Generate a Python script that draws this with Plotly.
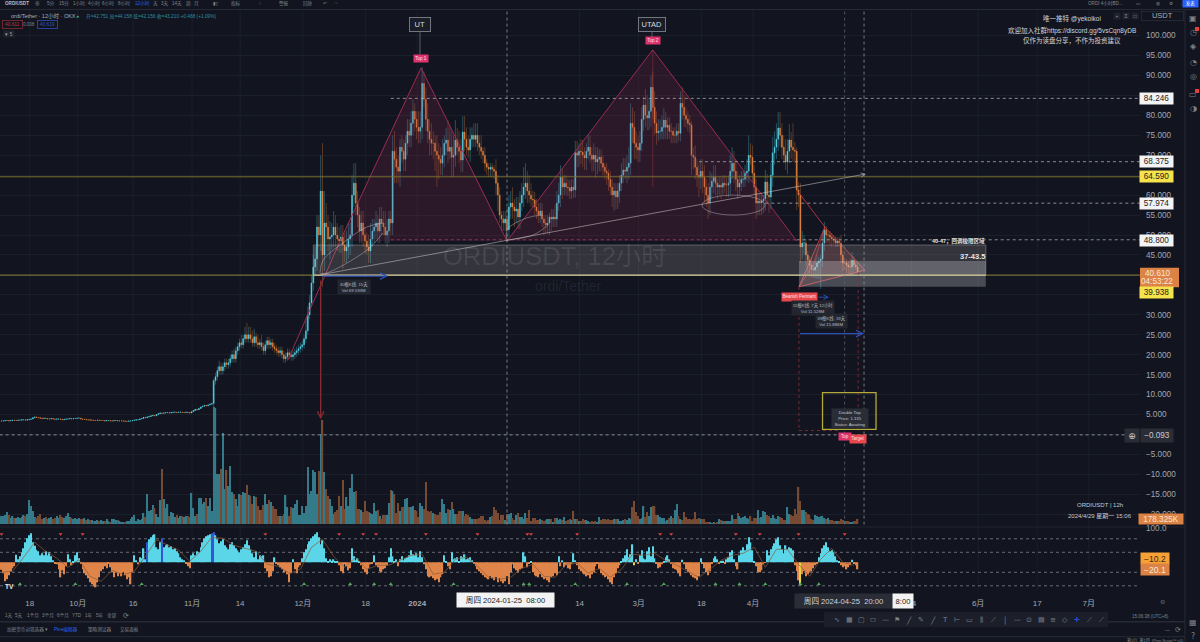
import plotly.graph_objects as go
import pandas as pd

CLOSE = [
3.4,3.4,3.5,3.5,3.4,3.5,3.6,3.5,3.5,3.6,
3.6,3.7,3.7,3.6,3.7,3.8,3.9,4.2,4.4,4.3,
4.2,4.1,4.0,4.1,4.0,3.9,3.9,4.0,3.9,3.8,
3.9,3.9,3.8,3.7,3.8,3.9,3.9,4.0,3.9,4.0,
4.0,4.1,4.1,3.9,3.8,3.8,3.7,3.7,3.6,3.6,
3.5,3.5,3.6,3.5,3.5,3.5,3.4,3.5,3.5,3.4,
3.4,3.5,3.5,3.4,3.4,3.4,3.4,3.3,3.3,3.4,
3.4,3.5,3.6,3.7,3.7,3.9,4.0,4.3,4.2,4.4,
4.5,4.7,4.8,4.7,5.0,5.2,5.4,5.3,5.4,5.5,
5.5,5.4,5.5,5.6,5.6,5.5,5.6,5.6,5.5,5.5,
5.6,5.5,5.4,5.7,6.0,6.3,6.2,6.5,6.9,7.1,
7.3,7.2,7.4,7.6,7.8,13.5,14.5,16,17,16,
17,18,17.5,18,19,20,19,21,22,23,
22.5,24,25,24,25,24,23,24.5,23,22.5,
23,22,21,22.5,23.5,22.5,23,22,21.5,21,
20.5,21,20,19,19.5,20.5,20,19.5,20,20.5,
21,21.5,22,22.5,24,26,30,33,38,42,
44,52,50,61,45,53,52,49,49.5,50,
52,50,49,48.5,49.5,47.5,46,47,49,50,
60,63,58,55,51,53,50,48.5,47,46,
49,51,52,53,51,54,53,52,50,51,
54,53,71,69,67,66,72,71,69,73,
76,75,78,81,79,77,76,77,88,84,
79,76,74,73,73,71,70,69,68,70,
73,73.8,71,72,69.5,70,73.8,72,71,68.8,
75.8,74,72,71.3,74,75,74,75,73,72,
71,70,68,67,66.5,67,66.5,66,63,60,
55,54,53,54,51.3,57,58,57,56,56.5,
54.5,58,60,62,63,61,60,59,58.8,57,
56,55,56,54,53,52.5,53,54.5,54,54.5,
54,58,60,64.5,62,63,62,61.8,61,62,
61.3,70.6,70,71,70.8,70,69.3,71,72,70,
69,70,68.3,69,69.5,68,67,66,65.5,64,
62,60,61,59.5,61,63,65,66.3,66,67,
68,78,77,73,72,71.3,73,79,82.6,80,
79.3,81,87,82,78,75.6,76,76,77,78.8,
77,77.5,76,76,75,75,76,75.5,83,82,
80,79,78,77.6,70,69.5,67,65,64.5,66,
64.5,62,60,58,62,63.5,64.5,63,62,62.5,
62,63,62.5,62.5,63,66,68,66,64,62,
63,64,64,65.5,66,70,69.5,65.5,62,58,
58.5,58,58.5,59,63.3,60,59.5,65,70.6,72,
74,76.8,75,72,70,68.3,71,73.8,72,71.3,
71,61.3,60,47,48,48,45,43.7,42.5,41.5,
41.2,42,43,43.5,44,48,51.3,50,50,49.5,
49,48.7,48,48.5,48,45,43,43,42.5,42,
42,43.7,42.5,42,40.6]

WICK_UP = [0]*115 + [
0.5,1,1,1.5,1,1,1,1,1,1,
1,1.5,1,1,1,2,1,2,3,2,
2,2,2,1,2,1,2,1,1,1,
1,1,1,1,1,1,1,1,1,1,
1,1,1,1,1,1,1,1,1,1,
3,2,2,2,3,3,3,3,9,12,
8,5,3,4,3,4,3,3,3,3,
3,3,4,4,3,5,5,5,3,2,
3,3,2,2,3,4,3,2,3,2,
3,3,3,4,3,2,2,4,5,3,
3,2,3,3,2,3,3,3,3,2,
2,4,4,4,3,3,4,3,4,3,
2,4,3,3,4,2,3,5,5,4,
5,5,3,4,3,4,4,3,3,3,
2,3,3,3,2,3,1,2,1,1,
1,1,1,3,2,2,1,2,2,3,
3,3,4,2,3,3,3,3,5,5,
3,4,3,2,2,2,2,2,2,1,
2,2,1,2,2,3,3,3,3,2,
2,2,2,2,2,2,3,3,2,3,
3,2,2,3,3,2,3,2,3,2,
2,2,1,2,1,2,2,2,2,2,
2,3,3,3,3,4,5,4,4,3,
3,3,3,2,4,5,3,3,4,4,
3,3,3,3,3,2,2,2,2,1,
2,2,2,3,4,3,2,2,2,1,
2,3,2,3,3,3,3,2,3,4,
2,3,3,1,2,2,2,2,2,2,
4,4,3,3,2,2,2,2,2,3,
5,3,3,2,2,2,2,2,1,3,
2,3,3,4,4,4,4,4,3,3,
4,3,4,2,6,2,1,2,3,3,
2,1,1,1,2,1,2,2,1,1,
3,2,1,1,1,1,1,1,1,1,
2,1,1,1,1,2,2,1,1,1]

WICK_DOWN = [0]*115 + [
1,1,1,1,1,1,1,1,1,1,
1,1,1,1,1,1,1,1,1,1,
1,1,1,1,1,1,1,1,1,1,
1,1,1,1,1,1,1,1,1,1,
1,1,1,1,1,1,1,1,1,1,
1,1,1,1,2,2,3,3,4,8,
4,4,3,5,3,3,3,3,3,3,
6,3,3,3,4,3,3,3,3,3,
3,3,3,2,3,3,2,3,3,3,
3,3,2,2,3,3,3,3,6,4,
3,4,3,3,3,3,3,3,3,3,
3,3,3,3,2,3,3,4,3,4,
5,8,5,3,3,3,3,3,2,5,
5,3,2,3,3,3,3,2,2,3,
2,2,2,2,2,2,2,2,2,2,
2,2,2,3,4,2,3,2,2,3,
2,3,3,4,3,3,3,2,3,3,
3,2,2,2,2,2,2,2,2,3,
2,2,3,3,2,2,2,2,3,3,
2,2,2,2,2,2,2,3,3,3,
3,3,3,2,2,3,3,4,3,3,
2,2,2,3,3,2,3,4,3,3,
3,2,2,2,3,3,3,4,4,3,
3,3,2,3,3,3,3,4,3,3,
3,2,2,2,3,3,3,2,3,2,
2,2,2,2,3,3,2,2,2,5,
3,3,3,5,3,4,4,3,4,3,
3,3,3,3,2,3,2,2,3,3,
3,2,3,3,3,2,2,2,2,2,
3,2,2,2,4,3,3,3,3,3,
2,4,3,3,3,3,3,3,3,2,
2,3,3,3,3,3,5,3,4,3,
3,3,3,3,2,2,2,3,4,7,
2,2,2,2,2,2,1,1,1,1,
2,2,2,2,2,2,2,2,1,0.5]

# volume, in units of roughly 35K
VOLUME = [
8,8,9,12,9,6,8,6,6,7,
6,7,9,8,10,24,18,13,7,6,
8,10,5,6,7,5,6,7,5,6,
8,6,9,7,6,8,11,7,6,5,
6,5,6,5,5,6,4,5,4,4,
3,3,4,3,4,3,3,5,3,2,
5,5,4,4,3,2,2,2,3,3,
5,7,9,3,5,4,5,11,7,30,
13,14,19,16,10,7,24,55,25,16,
20,8,12,11,7,9,6,8,8,7,
8,8,7,31,16,8,10,26,26,20,
22,26,18,26,13,117,116,50,50,55,
91,35,54,38,58,32,30,25,18,30,
29,32,31,39,29,28,20,28,27,18,
14,14,19,30,20,24,22,18,15,15,
8,8,8,10,29,17,8,17,16,20,
24,9,9,18,11,18,57,30,33,54,
52,30,53,90,104,52,35,28,25,18,
10,12,14,28,18,44,15,27,18,36,
50,32,33,15,15,14,12,23,13,12,
11,10,21,13,14,8,5,9,9,9,
21,34,33,30,11,21,13,17,17,25,
26,17,17,18,14,13,7,21,18,15,
42,13,12,13,11,10,9,9,12,25,
20,11,15,14,22,15,10,10,13,13,
13,8,10,9,7,5,5,5,5,6,
8,8,4,3,4,7,8,17,14,11,
4,9,9,4,10,10,11,6,4,9,
11,7,7,5,11,6,14,3,6,6,
4,4,5,4,3,4,5,5,5,2,
6,6,4,5,4,7,3,4,5,4,
13,5,5,3,3,5,4,4,3,2,
3,2,3,2,7,4,5,5,4,5,
4,4,5,5,5,3,3,4,5,4,
6,5,17,23,12,8,5,6,18,7,
12,8,17,18,18,9,9,7,6,6,
3,4,6,8,6,14,20,8,5,4,
12,7,5,5,4,5,12,5,6,5,
5,5,2,2,2,1,2,1,2,5,
4,3,3,3,3,3,9,5,5,11,
8,6,7,8,6,5,8,3,6,6,
14,6,7,13,12,9,8,6,9,6,
5,8,7,6,4,4,17,10,9,8,
15,10,37,23,14,14,12,10,9,5,
4,9,8,7,8,8,6,5,6,4,
4,3,3,3,3,5,4,3,3,3,
2,2,3,3,5]

OSC = [
-15,-22,-38,-34,-26,-18,-12,-8,15,6,
12,20,28,40,48,54,58,40,33,25,
22,14,18,14,22,14,20,12,4,-2,
-4,-14,-30,-16,-24,-8,16,6,-6,2,
14,20,8,-3,-14,-22,-26,-32,-40,-44,
-48,-50,-40,-30,-18,-14,-8,-12,-2,-10,
-20,-30,-20,-28,-22,-28,-20,-26,-34,-30,
-44,-20,14,4,-4,10,8,28,6,40,
46,50,54,56,30,26,40,48,30,34,
36,30,32,26,28,22,18,10,6,4,
-2,-8,-12,14,18,14,22,20,30,40,
48,52,54,56,58,60,54,46,38,42,
46,34,30,26,36,40,34,28,24,20,
26,30,36,44,34,26,18,10,22,6,
14,12,14,-12,-18,-30,-28,-18,10,-3,
-6,-10,-14,-20,-18,-24,-40,-22,6,-14,
-22,-10,-6,8,20,26,36,42,48,52,
56,60,50,36,44,28,8,2,6,3,
6,2,2,-6,-18,-22,-4,-8,-16,-12,
28,12,4,8,2,-6,-14,-20,-24,-12,
-4,-2,14,-6,-10,-18,-20,-14,-12,-6,
10,28,12,2,6,-8,6,12,4,8,
10,14,24,16,14,18,10,22,10,-4,
-14,-28,-30,-28,-32,-36,-34,-40,-30,-24,
14,2,-8,-14,20,6,8,10,2,12,
10,16,6,8,10,4,-2,-8,-14,-18,
-22,-26,-30,-32,-34,-28,-32,-36,-30,-40,
-32,-38,-42,-38,-28,-44,-20,-4,-12,-16,
-20,-14,-12,20,12,-10,-3,2,-20,-26,
-28,-30,-24,-30,-34,-32,-36,-40,-30,-28,
-22,-26,12,-8,4,-10,-6,-12,-14,-4,
18,4,-6,-14,-18,-22,-24,-28,-26,-32,
-24,-20,-8,-2,-14,-22,-26,-30,-28,-34,
-40,-44,-30,-22,-12,-6,2,8,14,26,
10,16,36,-6,6,-3,14,24,8,6,
22,30,12,32,8,-2,-12,-10,-4,2,
10,14,6,-2,-12,-14,-16,-22,-28,5,
-4,-14,-20,-22,-26,-30,-32,-36,-28,8,
-2,-12,-20,-26,-18,-3,8,12,6,-3,
2,3,-2,6,10,20,24,6,-8,-14,
14,24,30,24,36,50,40,24,1,-8,
-20,-20,-16,-4,-1,24,14,26,32,38,
46,50,34,26,18,34,26,30,28,24,
-6,-18,-36,-46,-24,-18,-28,-24,-20,-18,
-12,-6,-2,10,18,28,34,40,30,22,
24,20,12,4,1,-6,-10,-8,-14,-10,
-6,5,-3,-6,-14]

# signal line, read every 6th bar
SIGNAL = [-20,-18,10,40,22,8,-10,5,-28,-38,-16,-25,-18,12,45,35,24,2,22,50,48,34,28,22,-4,-8,
-22,-14,30,46,12,-10,10,-14,-6,-6,4,14,16,-24,-20,6,10,-8,-30,-34,-30,-12,-4,-28,-30,-4,-2,-22,
-12,-30,-14,16,14,18,4,-6,-18,-30,-14,4,14,18,30,-10,26,26,-4,-28,6,28,0,-6]

BLUE_BARS = [79, 87, 114, 115]
YELLOW_BARS = [343, 433]
SELL_MARKS = [0, 32, 44, 143, 183, 196, 203, 230, 258, 285, 287, 312, 357, 363, 398, 411, 432, 457]
BUY_MARKS = [10, 40, 76, 164, 189, 202, 211, 245, 283, 286, 311, 339, 359, 387, 400, 414, 433, 443]

PRICE_TICKS = [100,95,90,85,80,75,70,65,60,55,50,45,40,35,30,25,20,15,10,5,0,-5,-10,-15,-20]
PRICE_LABELS = ["100.000","95.000","90.000","","80.000","75.000","70.000","","60.000","55.000","50.000",
                "45.000","","35.000","30.000","25.000","20.000","15.000","10.000","5.000","",
                "−5.000","−10.000","−15.000","−20.000"]
DATE_TICKS = ["2023-09-18","2023-10-01","2023-10-16","2023-11-01","2023-11-14","2023-12-01","2023-12-18",
              "2024-01-01","2024-02-14","2024-03-01","2024-03-18","2024-04-01","2024-05-14",
              "2024-06-01","2024-06-17","2024-07-01"]
DATE_LABELS = ["18","10月","16","11月","14","12月","18","<b>2024</b>","14","3月","18","4月","14","6月","17","7月"]

BG = "#12151f"
W, H = 1200, 642
START = pd.Timestamp("2023-09-10 08:00")
def T(i):
    return START + pd.Timedelta(hours=12) * i
n = len(CLOSE)
bars = list(range(n))
dates = [T(i) for i in bars]
OPEN = [CLOSE[0]] + CLOSE[:-1]
body_hi = [max(o, c) for o, c in zip(OPEN, CLOSE)]
body_lo = [min(o, c) for o, c in zip(OPEN, CLOSE)]
HIGH = [b + w for b, w in zip(body_hi, WICK_UP)]
LOW = [b - w for b, w in zip(body_lo, WICK_DOWN)]

def pad(lst):
    return (list(lst) + [0] * n)[:n]
VOLUME = pad(VOLUME); OSC = pad(OSC)

fig = go.Figure()
UP, DOWN = "#5ad6e8", "#e8843f"

# Candles: dim wicks first, bright bodies on top
fig.add_trace(go.Candlestick(x=dates, open=OPEN, high=HIGH, low=LOW, close=CLOSE, hoverinfo="skip",
    increasing=dict(line=dict(color="#2b6272", width=0.8), fillcolor="#2b6272"),
    decreasing=dict(line=dict(color="#684229", width=0.8), fillcolor="#684229"), whiskerwidth=0, showlegend=False))
fig.add_trace(go.Candlestick(x=dates, open=OPEN, high=body_hi, low=body_lo, close=CLOSE, hoverinfo="skip",
    increasing=dict(line=dict(color=UP, width=0.3), fillcolor=UP),
    decreasing=dict(line=dict(color=DOWN, width=0.3), fillcolor=DOWN), whiskerwidth=0, showlegend=False))

def line_tr(bx, py, color, width=1, fill=None, dash=None, shape=None):
    fig.add_trace(go.Scatter(x=[T(b) for b in bx], y=py, mode="lines", hoverinfo="skip", showlegend=False,
        line=dict(color=color, width=width, dash=dash, shape=shape or "linear"),
        fill="toself" if fill else None, fillcolor=fill))

# Double-top pattern
PATTERN_BARS = [183.5, 227.4, 274, 353, 431]
PATTERN_PRICE = [48.5, 91.9, 48.5, 96.4, 48.5]
line_tr(PATTERN_BARS[:3] + [183.5], PATTERN_PRICE[:3] + [48.5], "rgba(0,0,0,0)", 0, "rgba(170,40,90,0.17)")
line_tr(PATTERN_BARS[2:] + [274], PATTERN_PRICE[2:] + [48.5], "rgba(0,0,0,0)", 0, "rgba(170,40,90,0.17)")
line_tr([155.3] + PATTERN_BARS, [18.7] + PATTERN_PRICE, "#a82e5a", 0.9)
line_tr([353, 353], [96.4, 62], "rgba(200,70,70,0.5)", 0.7)
# Pennant
line_tr([432.2, 446.3, 468, 432.2], [37, 52, 41.2, 37], "#cf3c46", 0.8, "rgba(225,70,70,0.14)")
line_tr([431, 446.3], [61.3, 52], "#cf3c46", 0.8)
line_tr([432.2, 440, 446.3], [37, 42.5, 52], "#cf3c46", 0.6)
# Curved tool lines
CURVE_COL = "rgba(225,215,220,0.55)"
line_tr([172.6, 174.3, 185, 198, 206.8], [40.5, 43.7, 48, 52, 53], CURVE_COL, 0.7, shape="spline")
line_tr([172.6, 176.5, 198, 206.8], [40.3, 40.5, 46.2, 50.5], CURVE_COL, 0.7, shape="spline")
line_tr([274, 274, 284.8, 293.5], [48.7, 51.3, 54.3, 55], CURVE_COL, 0.7, shape="spline")
line_tr([274, 288.1, 296.2], [48.7, 50, 52.5], CURVE_COL, 0.7, shape="spline")

# Volume
vol_col = ["#347a89" if c >= o else "#774a33" for c, o in zip(CLOSE, OPEN)]
fig.add_trace(go.Bar(x=dates, y=VOLUME, yaxis="y2", marker=dict(color=vol_col, line=dict(width=0)),
                     width=43200000 * 0.7, hoverinfo="skip", showlegend=False))
# Oscillator
osc_col = [UP if v >= 0 else "#e0854a" for v in OSC]
for b in BLUE_BARS: osc_col[b] = "#2f57d8"
for b in YELLOW_BARS: osc_col[b] = "#e8d44a"
fig.add_trace(go.Bar(x=dates, y=OSC, yaxis="y3", marker=dict(color=osc_col, line=dict(width=0)),
                     width=43200000 * 0.72, hoverinfo="skip", showlegend=False))
fig.add_trace(go.Scatter(x=[T(i * 6) for i in range(len(SIGNAL))], y=SIGNAL, yaxis="y3", mode="lines",
                         line=dict(color="#8a5a38", width=0.7), hoverinfo="skip", showlegend=False))
fig.add_trace(go.Scatter(x=[T(b) for b in SELL_MARKS], y=[56.5] * len(SELL_MARKS), yaxis="y3", mode="markers",
                         marker=dict(symbol="triangle-down", size=3.5, color="#e0413f"), hoverinfo="skip", showlegend=False))
fig.add_trace(go.Scatter(x=[T(b) for b in BUY_MARKS], y=[-43.5] * len(BUY_MARKS), yaxis="y3", mode="markers",
                         marker=dict(symbol="triangle-up", size=3.5, color="#4caf50"), hoverinfo="skip", showlegend=False))

shapes, ann = [], []
def hline(price, b0, b1, color="#a8abb3", dash="dot", width=0.8):
    shapes.append(dict(type="line", xref="x", yref="y", x0=T(b0), x1=T(b1), y0=price, y1=price,
                       line=dict(color=color, width=width, dash=dash)))
def vline(b, p0, p1, color="#8f939b", dash="dot", width=0.8):
    shapes.append(dict(type="line", xref="x", yref="y", x0=T(b), x1=T(b), y0=p0, y1=p1,
                       line=dict(color=color, width=width, dash=dash)))
def rect(b0, b1, p0, p1, fill, color="rgba(0,0,0,0)", width=0):
    shapes.append(dict(type="rect", xref="x", yref="y", x0=T(b0), x1=T(b1), y0=p0, y1=p1, fillcolor=fill,
                       line=dict(color=color, width=width)))
def ui_rect(x0, y0, x1, y1, fill, color="rgba(0,0,0,0)", width=0, layer="above"):
    shapes.append(dict(type="rect", xref="paper", yref="paper", x0=x0 / W, x1=x1 / W, y0=1 - y0 / H, y1=1 - y1 / H,
                       fillcolor=fill, line=dict(color=color, width=width), layer=layer))
def ui(x, y, text, size=6, color="#9aa0aa", anchor="center", bg=None, w=None, h=None, border=None, font=None):
    d = dict(xref="paper", yref="paper", x=x / W, y=1 - y / H, text=text, showarrow=False, xanchor=anchor, yanchor="middle",
             font=dict(size=size, color=color, family=font or "Liberation Sans, Noto Sans CJK SC"), borderpad=0)
    if bg: d["bgcolor"] = bg
    if w: d["width"] = w
    if h: d["height"] = h
    if border: d["bordercolor"] = border; d["borderwidth"] = 0.8
    ann.append(d)
def arrow(b0, p0, b1, p1, color, width=1.5):
    ann.append(dict(x=T(b1), y=p1, ax=T(b0), ay=p0, xref="x", yref="y", axref="x", ayref="y", text="",
                    showarrow=True, arrowhead=5, arrowwidth=width, arrowsize=1, arrowcolor=color))

# Faint vertical grid
for d in DATE_TICKS:
    shapes.append(dict(type="line", xref="x", yref="paper", x0=d, x1=d, y0=1 - 590 / H, y1=1 - 10 / H,
                       line=dict(color="#1b1f2b", width=1), layer="below"))

# Bands
rect(169, 533.5, 39.9, 47.5, "rgba(225,205,215,0.17)", "rgba(220,215,220,0.4)", 0.8)
rect(432.2, 533.5, 37, 43.5, "rgba(230,230,235,0.26)")
# Horizontal levels
hline(64.59, -1, 617, "#80762f", "solid", 0.9)
hline(39.938, -1, 617, "#958c3a", "solid", 0.9)
hline(39.938, 169, 533.5, "#d8d2b4", "solid", 1)
hline(84.246, 211, 617)
hline(68.375, 378, 617)
hline(57.974, 414, 617)
hline(48.8, 211, 431, "#a8405f", "dot", 0.8)
hline(48.8, 431, 617)
hline(-0.093, -1, 609)
# Crosshair-style verticals
vline(274, 106, -39.5)
vline(457, 106, -39.5, "#60646e")
vline(467.5, 106, -39.5)
# Ellipse
shapes.append(dict(type="circle", xref="x", yref="y", x0=T(379.7), x1=T(413.8), y0=55, y1=60,
                   line=dict(color=CURVE_COL, width=0.7)))
# Trend line
arrow(172.6, 40, 468.5, 65.3, "rgba(200,195,200,0.7)", 0.8)
# Drop targets
vline(432.2, 37, 1, "#8f2f37", "dot", 0.8)
vline(464.3, 40.7, 1, "#8f2f37", "dot", 0.8)
hline(1, 432.2, 455, "#8f2f37", "dot", 0.8)
# Yellow box
rect(445, 474, 1.3, 10.5, "rgba(0,0,0,0)", "#b5a93a", 1.3)
# Red arrow and blue measuring arrows
arrow(173, 39, 173, 3.8, "#8a2b33", 1.3)
arrow(173, 39.7, 209.5, 39.7, "#2c50b5", 1.3)
arrow(432, 25.3, 467.5, 25.3, "#2c50b5", 1.3)
arrow(442, 34.4, 448.5, 34.4, "#2c50b5", 0.9)
# Pane separators
shapes.append(dict(type="line", xref="paper", yref="paper", x0=0, x1=1185 / W, y0=1 - 527 / H, y1=1 - 527 / H,
                   line=dict(color="#20242f", width=1)))
# Oscillator levels
for lv in [47, 20, -20, -47]:
    shapes.append(dict(type="line", xref="paper", yref="y3", x0=0, x1=1140 / W, y0=lv, y1=lv, layer="below",
                       line=dict(color="#7d818a", width=0.8, dash="dot")))

# Watermark
ui(555, 256, "ORDIUSDT, 12小时", 25.5, "rgba(255,255,255,0.09)")
ui(568, 286, "ordi/Tether", 14, "rgba(255,255,255,0.08)")
# Top labels
for (x, label, ty, tl) in [(420, "UT", 58, "Top 1"), (652, "UTAD", 40, "Top 2")]:
    shapes.append(dict(type="line", xref="paper", yref="paper", x0=x / W, x1=x / W, y0=1 - 32 / H, y1=1 - (ty - 3) / H,
                       line=dict(color="#7a7e86", width=0.7)))
    ui(x, 25, label, 7.5, "#d8dade", bg="#1a1d27", border="#8a8e96", w=20 if label == "UT" else 26, h=13)
    ui(x + 0.5, ty, tl, 4.5, "#fbe3ea", bg="#e0326e", w=14, h=7)
# Pattern captions
ui(986, 241.5, "<b>40-47，回调极限区域</b>", 5.5, "#dfe1e5", "right")
ui(986, 256, "<b>37-43.5</b>", 7.5, "#e6e7ea", "right")
ui(799.5, 297, "Bearish Pennant", 4.5, "#fbe3e3", bg="#e8474c", w=35, h=7.5)
ui(354, 286.5, "30根K线, 15天<br>Vol 69.593M", 4.3, "#b8bbc2", bg="#23262f", w=32, h=14)
ui(813, 308, "15根K线, 7天 12小时<br>Vol 11.528M", 4.3, "#b8bbc2", bg="#23262f", w=42, h=14)
ui(831, 321, "39根K线, 19天<br>Vol 15.886M", 4.3, "#b8bbc2", bg="#23262f", w=31, h=14)
ui(850, 418.5, "Double Top<br>Price: 1.135<br>Status: Awaiting", 4.3, "#c6c8ce", bg="#2a2d36", w=36, h=19)
ui(845, 436, "Top", 4.5, "#fbe3ea", bg="#e0326e", w=12, h=7)
ui(858, 438.5, "Target", 4.5, "#fbe3e3", bg="#e8474c", w=16, h=7.5)
# Author text
ui(1072, 19, "唯一推特 @yekoikoi", 6.5, "#d2d4da")
ui(1072, 30, "欢迎加入社群https://discord.gg/5vsCqn8yDB", 6.5, "#d2d4da")
ui(1072, 41, "仅作为读盘分享，不作为投资建议", 6.5, "#d2d4da")
ui(1100, 505, "ORDIUSDT | 12h", 6, "#c6c8ce")
ui(1100, 515.5, "2024/4/29 星期一 15:06", 6, "#c6c8ce")

# Price tags
for yy, text, bg, col in [(98.5, "84.246", "#f3f3f3", "#222"), (162, "68.375", "#f3f3f3", "#222"), (177, "64.590", "#f6e24a", "#222"),
                          (203, "57.974", "#f3f3f3", "#222"), (240, "48.800", "#f3f3f3", "#222"), (292.7, "39.938", "#f6e24a", "#222")]:
    ui(1156.5, yy, text, 8.2, col, bg=bg, w=33, h=10.5)
ui_rect(1140, 267.7, 1179, 287.3, "#dd8245")
ui(1157, 273, "40.610", 8.2, "#f7e6d8")
ui(1157, 282, "04:53:22", 8.2, "#f7e6d8")
ui(1157, 435, "−0.093", 8.2, "#c9ccd2", bg="#2a2d36", w=32, h=13)
ui(1132, 435, "⊕", 9, "#c9ccd2", bg="#2a2d36", w=14, h=13, font="DejaVu Sans")
ui(1161, 519, "178.325K", 8.2, "#f7e6d8", bg="#dd8245", w=44, h=10)
ui(1156, 528, "100.0", 8.2, "#9aa0aa")
ui(1155, 558, "−10.2", 8.5, "#3a2a14", bg="#f7a035", w=28, h=11)
ui(1155, 569, "−20.1", 8.5, "#f7e6d8", bg="#dd8245", w=28, h=11)
ui(1162, 16, "USDT", 7.5, "#a7abb3", w=41, h=8, border="#2a2e39")
for x, t in [(1117, "+"), (1126, "Σ"), (1135, "□")]:
    ui(x, 16, t, 5, "#8a8f99", bg="#1f222c", w=6, h=6)

# Axis-cursor labels
ui(505.5, 600, "周四 2024-01-25  08:00", 7.6, "#222", bg="#f3f3f3", w=97, h=14)
ui(843.5, 600.5, "周四 2024-04-25  20:00", 7.6, "#d2d4da", bg="#2a2d36", w=97, h=14)
ui(902.5, 600.5, "8:00", 7.6, "#222", bg="#f3f3f3", w=20, h=14)

# Legend
ui(10, 16, "ordi/Tether · 12小时 · OKX", 5.5, "#aab0ba", "left")
ui(77, 16, "●", 5, "#2aa88a")
ui(85, 16, "开=42.751 高=44.158 低=42.156 收=43.210 +0.468 (+1.09%)", 4.8, "#2f8f9c", "left")
ui(12, 25, "40.611", 4.8, "#b03a3f", w=19, h=7.5, border="#8a2b33")
ui(29, 25, "0.008", 4.5, "#7d818a")
ui(47, 25, "40.619", 4.8, "#3355b5", w=19, h=7.5, border="#2c50b5")
ui(8.5, 34, "▾ 5", 4.5, "#9aa0aa", bg="#1f222c", w=10, h=6)
ui(9, 586.5, "<b>TV</b>", 6.5, "#e8e8ea")

# Top toolbar
ui_rect(0, 0, W, 9.5, BG)
shapes.append(dict(type="line", xref="paper", yref="paper", x0=0, x1=1, y0=1 - 9.5 / H, y1=1 - 9.5 / H,
                   line=dict(color="#262a35", width=1)))
for x, t, c in [(17, "<b>ORDIUSDT</b>", "#b8bcc4"), (37, "⊕", "#9aa0aa"), (51, "5分", "#80858f"), (64, "15分", "#80858f"),
                (79, "1小时", "#80858f"), (94, "4小时", "#80858f"), (108, "6小时", "#80858f"), (124, "8小时", "#80858f"),
                (142, "12小时", "#2962ff"), (155, "天", "#80858f"), (165, "3天", "#80858f"), (177, "14天", "#80858f"),
                (188, "周", "#80858f"), (196, "月", "#80858f"), (216, "▮▯", "#80858f"), (236, "指标", "#80858f"),
                (260, "⁘", "#80858f"), (284, "警报", "#80858f"), (308, "回放", "#80858f"), (325, "↶", "#80858f"), (336, "↷", "#3c404a"),
                (1105, "ORDI 4小时BD...", "#80858f"), (1138, "▭", "#80858f"), (1158, "◍", "#80858f"),
                (1171, "⚙", "#80858f"), (1183, "⛶", "#80858f")]:
    ui(x, 3.5, t, 4.6, c, font="Liberation Sans, Noto Sans CJK SC, DejaVu Sans")
ui(1190, 3.5, "发表", 4.5, "#ffffff", bg="#2962ff", w=15, h=7)

# Right sidebar
shapes.append(dict(type="line", xref="paper", yref="paper", x0=1185 / W, x1=1185 / W, y0=0, y1=1 - 9.5 / H,
                   line=dict(color="#262a35", width=1)))
for yy, t in [(18, "▣"), (32, "◷"), (47, "◈"), (62, "◔"), (76, "◎"), (94, "▭"), (109, "◑"), (622, "▦"), (636, "?")]:
    ui(1193, yy, t, 8, "#7d818a", font="DejaVu Sans")
ui_rect(1195, 27, 1199, 31, "#e0413f")
ui_rect(1195, 89, 1199, 93, "#e0413f")

# Bottom rows
for x, t in [(8.5, "1天"), (19, "5天"), (33, "1个月"), (48, "3个月"), (63, "6个月"), (77, "YTD"), (89, "1年"), (100, "5年"), (112, "全部")]:
    ui(x, 615.5, t, 4.6, "#80858f")
ui(126, 615.5, "⟳", 7, "#80858f", font="DejaVu Sans")
shapes.append(dict(type="line", xref="paper", yref="paper", x0=0, x1=1185 / W, y0=1 - 621.7 / H, y1=1 - 621.7 / H,
                   line=dict(color="#262a35", width=1.5)))
shapes.append(dict(type="line", xref="paper", yref="paper", x0=0, x1=1185 / W, y0=1 - 636.7 / H, y1=1 - 636.7 / H,
                   line=dict(color="#262a35", width=1)))
for x, t, c in [(25, "加密货币对筛选器", "#80858f"), (46, "▾", "#80858f"), (65, "Pine编辑器", "#2962ff"), (99, "策略测试器", "#80858f"), (129, "交易面板", "#80858f")]:
    ui(x, 629, t, 4.6, c)
ui(1150, 616, "15:06:38 (UTC+8)", 4.5, "#80858f")
ui(1162, 601, "⚙", 6, "#60646e", font="DejaVu Sans")
ui(1167, 630, "—", 5, "#80858f")
ui(1178, 630, "⟳", 7, "#80858f", font="DejaVu Sans")
ui(1155, 640, "第1行, 第1列  (Pine Script™ v5)", 4, "#80858f")

# Drawing toolbar
ui_rect(824, 612, 1108, 627, "#1c1f29")
ICONS = ["∿", "▦", "▢", "⬭", "—", "⚑", "╱", "✎", "╱", "T", "⊢", "▭", "⫼", "⟋", "│", "—", "⊙", "▤", "≡", "◇", "✛", "⟋", "⟋"]
for k, ic in enumerate(ICONS):
    ui(837 + k * 12.00, 620, ic, 7, "#2962ff" if ic == "✛" else "#7d818a", font="DejaVu Sans")

PX0, PX1 = -0.81, (1140 - 1.5) / 1.845
fig.update_layout(
    width=W, height=H, margin=dict(l=0, r=0, t=0, b=0), autosize=False,
    paper_bgcolor=BG, plot_bgcolor=BG, showlegend=False, barmode="overlay", dragmode=False,
    xaxis=dict(type="date", domain=[0, 1140 / W], range=[T(PX0), T(PX1)], anchor="y3", rangeslider=dict(visible=False),
               tickmode="array", tickvals=DATE_TICKS, ticktext=DATE_LABELS, showgrid=False, zeroline=False, showline=False,
               ticks="", ticklabelstandoff=7,
               tickfont=dict(size=8, color="#a3a7af", family="Liberation Sans, Noto Sans CJK SC")),
    yaxis=dict(domain=[1 - 527 / H, 1 - 10 / H], range=[(434.5 - 527) / 3.99, (434.5 - 10) / 3.99], side="right", anchor="x",
               tickmode="array", tickvals=PRICE_TICKS, ticktext=PRICE_LABELS, ticks="", showline=False, zeroline=False,
               gridcolor="#1b1f2b", gridwidth=1, ticklabelstandoff=5, tickfont=dict(size=8.2, color="#a3a7af", family="Liberation Sans")),
    yaxis2=dict(overlaying="y", range=[-3, 514], visible=False, side="right", anchor="x"),
    yaxis3=dict(domain=[1 - 590 / H, 1 - 528 / H], range=[-55.4, 68.6], visible=False, anchor="x"),
    shapes=shapes, annotations=ann,
)
fig.write_html("out.html", config={"displayModeBar": False},
               post_script="document.body.style.margin='0';document.body.style.overflow='hidden';document.body.style.background='%s';" % BG)
